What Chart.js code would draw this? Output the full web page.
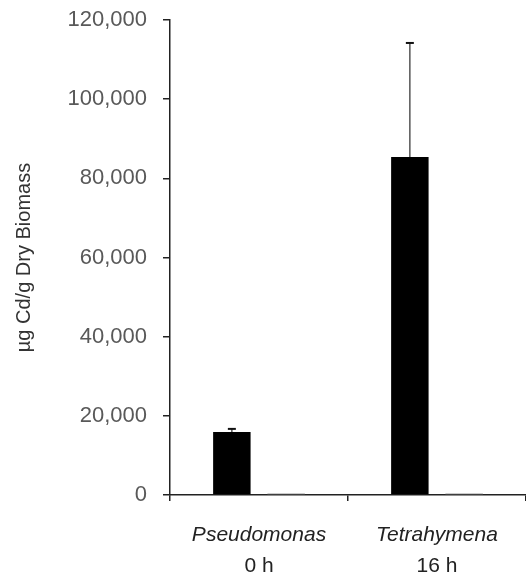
<!DOCTYPE html>
<html>
<head>
<meta charset="utf-8">
<script src="https://cdn.jsdelivr.net/npm/chart.js@4.4.1/dist/chart.umd.min.js"></script>
<style>
  html, body { margin: 0; padding: 0; background: #fff; }
  #wrap { width: 526px; height: 574px; position: relative; }
</style>
</head>
<body>
<div id="wrap"><canvas id="chart"></canvas></div>
<script>
const organisms = ["Pseudomonas", "Tetrahymena"];
const times = ["0 h", "16 h"];
const cdValues = [15900, 85400];
const cdErrors = [800, 28800];
const controlValues = [350, 350];
const controlErrors = [0, 0];
const yTicks = [0, 20000, 40000, 60000, 80000, 100000, 120000];

// error bars (upper only), drawn from the data through the y scale
const errorBars = {
  id: "errorBars",
  afterDatasetsDraw(chart) {
    const ctx = chart.ctx;
    const y = chart.scales.y;
    chart.data.datasets.forEach((ds, i) => {
      if (!ds.errors) return;
      const meta = chart.getDatasetMeta(i);
      meta.data.forEach((bar, j) => {
        const err = ds.errors[j];
        if (!err) return;
        const top = y.getPixelForValue(ds.data[j] + err);
        ctx.save();
        ctx.strokeStyle = "#555";
        ctx.lineWidth = 1.5;
        ctx.beginPath();
        ctx.moveTo(bar.x, bar.y);
        ctx.lineTo(bar.x, top);
        ctx.stroke();
        ctx.strokeStyle = "#111";
        ctx.lineWidth = 2;
        ctx.beginPath();
        ctx.moveTo(bar.x - 4, top);
        ctx.lineTo(bar.x + 4, top);
        ctx.stroke();
        ctx.restore();
      });
    });
  },
};

new Chart(document.getElementById("chart"), {
  type: "bar",
  data: {
    labels: organisms,
    datasets: [
      {
        label: "Cd",
        data: cdValues,
        errors: cdErrors,
        backgroundColor: "#000",
        barPercentage: 0.69,
        categoryPercentage: 0.61,
      },
      {
        label: "Control",
        data: controlValues,
        errors: controlErrors,
        backgroundColor: "#999",
        barPercentage: 0.69,
        categoryPercentage: 0.61,
      },
    ],
  },
  options: {
    responsive: true,
    maintainAspectRatio: false,
    animation: false,
    layout: { padding: { top: 0, right: 0, left: 12, bottom: 0 } },
    plugins: {
      legend: { display: false },
      tooltip: { enabled: false },
    },
    scales: {
      x: {
        offset: true,
        afterFit(scale) { scale.height = 51; },
        grid: { offset: true, drawOnChartArea: false, drawTicks: true, tickLength: 6, color: "#222", lineWidth: 1.5 },
        border: { color: "#222", width: 1.5 },
        ticks: { color: "#222", padding: 22, font: { family: "Liberation Sans", size: 21, style: "italic" } },
      },
      x2: {
        type: "category",
        labels: times,
        position: "bottom",
        offset: true,
        afterFit(scale) { scale.height = 28; },
        grid: { display: false, drawTicks: false },
        border: { display: false },
        ticks: { color: "#222", padding: 8, font: { family: "Liberation Sans", size: 21 } },
      },
      y: {
        min: 0,
        max: 120000,
        afterBuildTicks(scale) {
          scale.ticks = yTicks.map((v) => ({ value: v }));
        },
        afterFit(scale) {
          scale.width = 158;
          scale.paddingTop = 20;
          scale.paddingBottom = 0;
        },
        grid: { drawOnChartArea: false, drawTicks: true, tickLength: 7, color: "#222", lineWidth: 1.5 },
        border: { color: "#222", width: 1.5 },
        ticks: {
          color: "#595959",
          padding: 16,
          font: { family: "Liberation Sans", size: 22 },
          callback: (v) => v.toLocaleString("en-US"),
        },
        title: {
          display: true,
          text: "µg Cd/g Dry Biomass",
          color: "#333",
          padding: { top: 0, bottom: 4 },
          font: { family: "Liberation Sans", size: 20 },
        },
      },
    },
  },
  plugins: [errorBars],
});
</script>
</body>
</html>
